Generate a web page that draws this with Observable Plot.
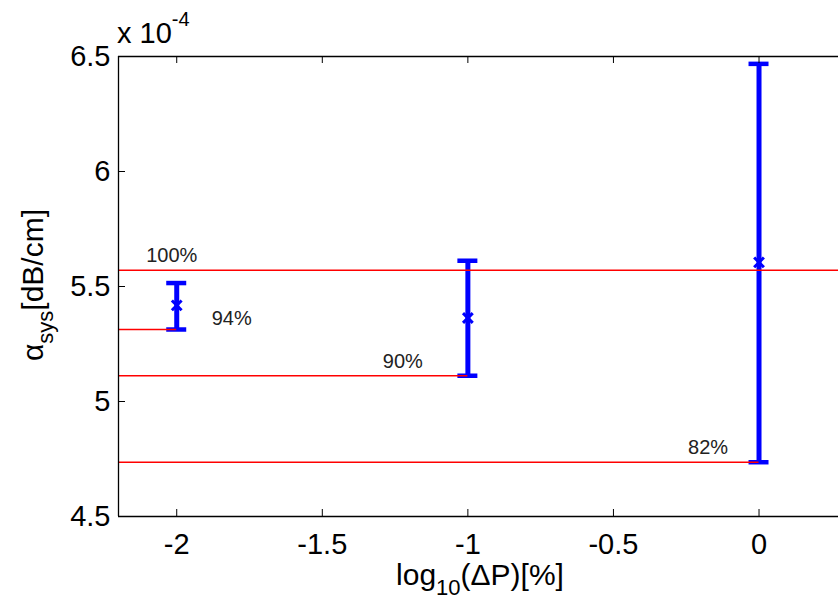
<!DOCTYPE html>
<html><head><meta charset="utf-8">
<script src="https://cdn.jsdelivr.net/npm/d3@7"></script>
<script src="https://cdn.jsdelivr.net/npm/@observablehq/plot@0.6"></script>
<style>
html,body{margin:0;padding:0;background:#fff;overflow:hidden}
svg{display:block}
</style>
</head><body><div id="chart"></div>
<script>
// measurements (alpha_sys in units of 1e-4 dB/cm)
const positions = [-2, -1, 0];            // log10(ΔP[%])
const means = [5.418, 5.363, 5.605];
const lows = [5.313, 5.112, 4.736];
const highs = [5.515, 5.612, 6.468];

// reference levels
const refLabels = ["100%", "94%", "90%", "82%"];
const refLevels = [5.571, 5.313, 5.112, 4.736];
const refAt = [-2, -2, -1, 0];            // measurement each level belongs to

const xTicks = [-2, -1.5, -1, -0.5, 0];
const yTicks = [4.5, 5, 5.5, 6, 6.5];
const xDomain = [-2.2, 0.273];
const yDomain = [4.5, 6.5];

const pts = positions.map((x, i) => ({x, mean: means[i], lo: lows[i], hi: highs[i]}));
const refs = refLabels.map((label, i) => ({label, y: refLevels[i], at: refAt[i], x1: xDomain[0], x2: i === 0 ? xDomain[1] : refAt[i]}));

const BLUE = "#0000ff", RED = "#ff0000";
const FONT = "'Liberation Sans', Arial, Helvetica, sans-serif";
const labelOffsets = [[-5, -15], [55, -11], [-65, -14], [-51, -15]];

const chart = Plot.plot({
  width: 838, height: 599,
  marginTop: 56, marginBottom: 83, marginLeft: 118, marginRight: 0,
  x: {domain: xDomain, label: null},
  y: {domain: yDomain, label: null},
  style: {fontFamily: FONT, fontSize: "29px", color: "#000", background: "#fff"},
  marks: [
    // error bars
    Plot.ruleX(pts, {x: "x", y1: "lo", y2: "hi", stroke: BLUE, strokeWidth: 5}),
    Plot.ruleY(pts, {y: "lo", x1: "x", x2: "x", insetLeft: -10, insetRight: -10, stroke: BLUE, strokeWidth: 4.5}),
    Plot.ruleY(pts, {y: "hi", x1: "x", x2: "x", insetLeft: -10, insetRight: -10, stroke: BLUE, strokeWidth: 4.5}),
    Plot.dot(pts, {x: "x", y: "mean", symbol: "times", r: 4.5, stroke: BLUE, strokeWidth: 3}),
    // reference lines
    Plot.ruleY(refs, {y: "y", x1: "x1", x2: "x2", stroke: RED, strokeWidth: 1.5}),
    ...refs.map((r, i) => Plot.text([r], {x: "at", y: "y", text: "label", dx: labelOffsets[i][0], dy: labelOffsets[i][1], fontSize: 20, fill: "#222", textAnchor: "middle"})),
    // box (top, bottom, left)
    Plot.ruleY(yDomain, {stroke: "#000", strokeWidth: 1.3}),
    Plot.ruleX([xDomain[0]], {stroke: "#000", strokeWidth: 1.3}),
    // inward ticks
    Plot.ruleX(xTicks, {x: d => d, y1: () => yDomain[0], y2: () => yDomain[0], insetTop: -7, stroke: "#000"}),
    Plot.ruleX(xTicks, {x: d => d, y1: () => yDomain[1], y2: () => yDomain[1], insetBottom: -7, stroke: "#000"}),
    Plot.ruleY(yTicks, {y: d => d, x1: () => xDomain[0], x2: () => xDomain[0], insetRight: -7, stroke: "#000"}),
    // tick labels
    Plot.axisX({ticks: xTicks, tickSize: 0, tickPadding: 17, tickFormat: d => String(d), fontSize: 29}),
    Plot.axisY({ticks: yTicks, tickSize: 0, tickPadding: 8, tickFormat: d => String(d), fontSize: 29})
  ]
});
document.getElementById("chart").appendChild(chart);

const svg = d3.select(chart);
// multiplier
const mult = svg.append("text").attr("x", 117).attr("y", 43).attr("text-anchor", "start")
  .attr("font-family", FONT).attr("font-size", 29).attr("fill", "#000");
mult.append("tspan").text("x 10");
mult.append("tspan").attr("dy", -17).attr("font-size", 20).text("-4");

// x label
const xl = svg.append("text").attr("x", 480).attr("y", 585).attr("text-anchor", "middle")
  .attr("font-family", FONT).attr("font-size", 30).attr("fill", "#000");
xl.append("tspan").text("log");
xl.append("tspan").attr("dy", 10).attr("font-size", 22).text("10");
xl.append("tspan").attr("dy", -10).text("(ΔP)[%]");

// y label
const yl = svg.append("text").attr("transform", "translate(43,285) rotate(-90)").attr("text-anchor", "middle")
  .attr("font-family", FONT).attr("font-size", 30).attr("fill", "#000");
yl.append("tspan").text("α");
yl.append("tspan").attr("dy", 10).attr("font-size", 22).text("sys");
yl.append("tspan").attr("dy", -10).text("[dB/cm]");
</script>
</body></html>
